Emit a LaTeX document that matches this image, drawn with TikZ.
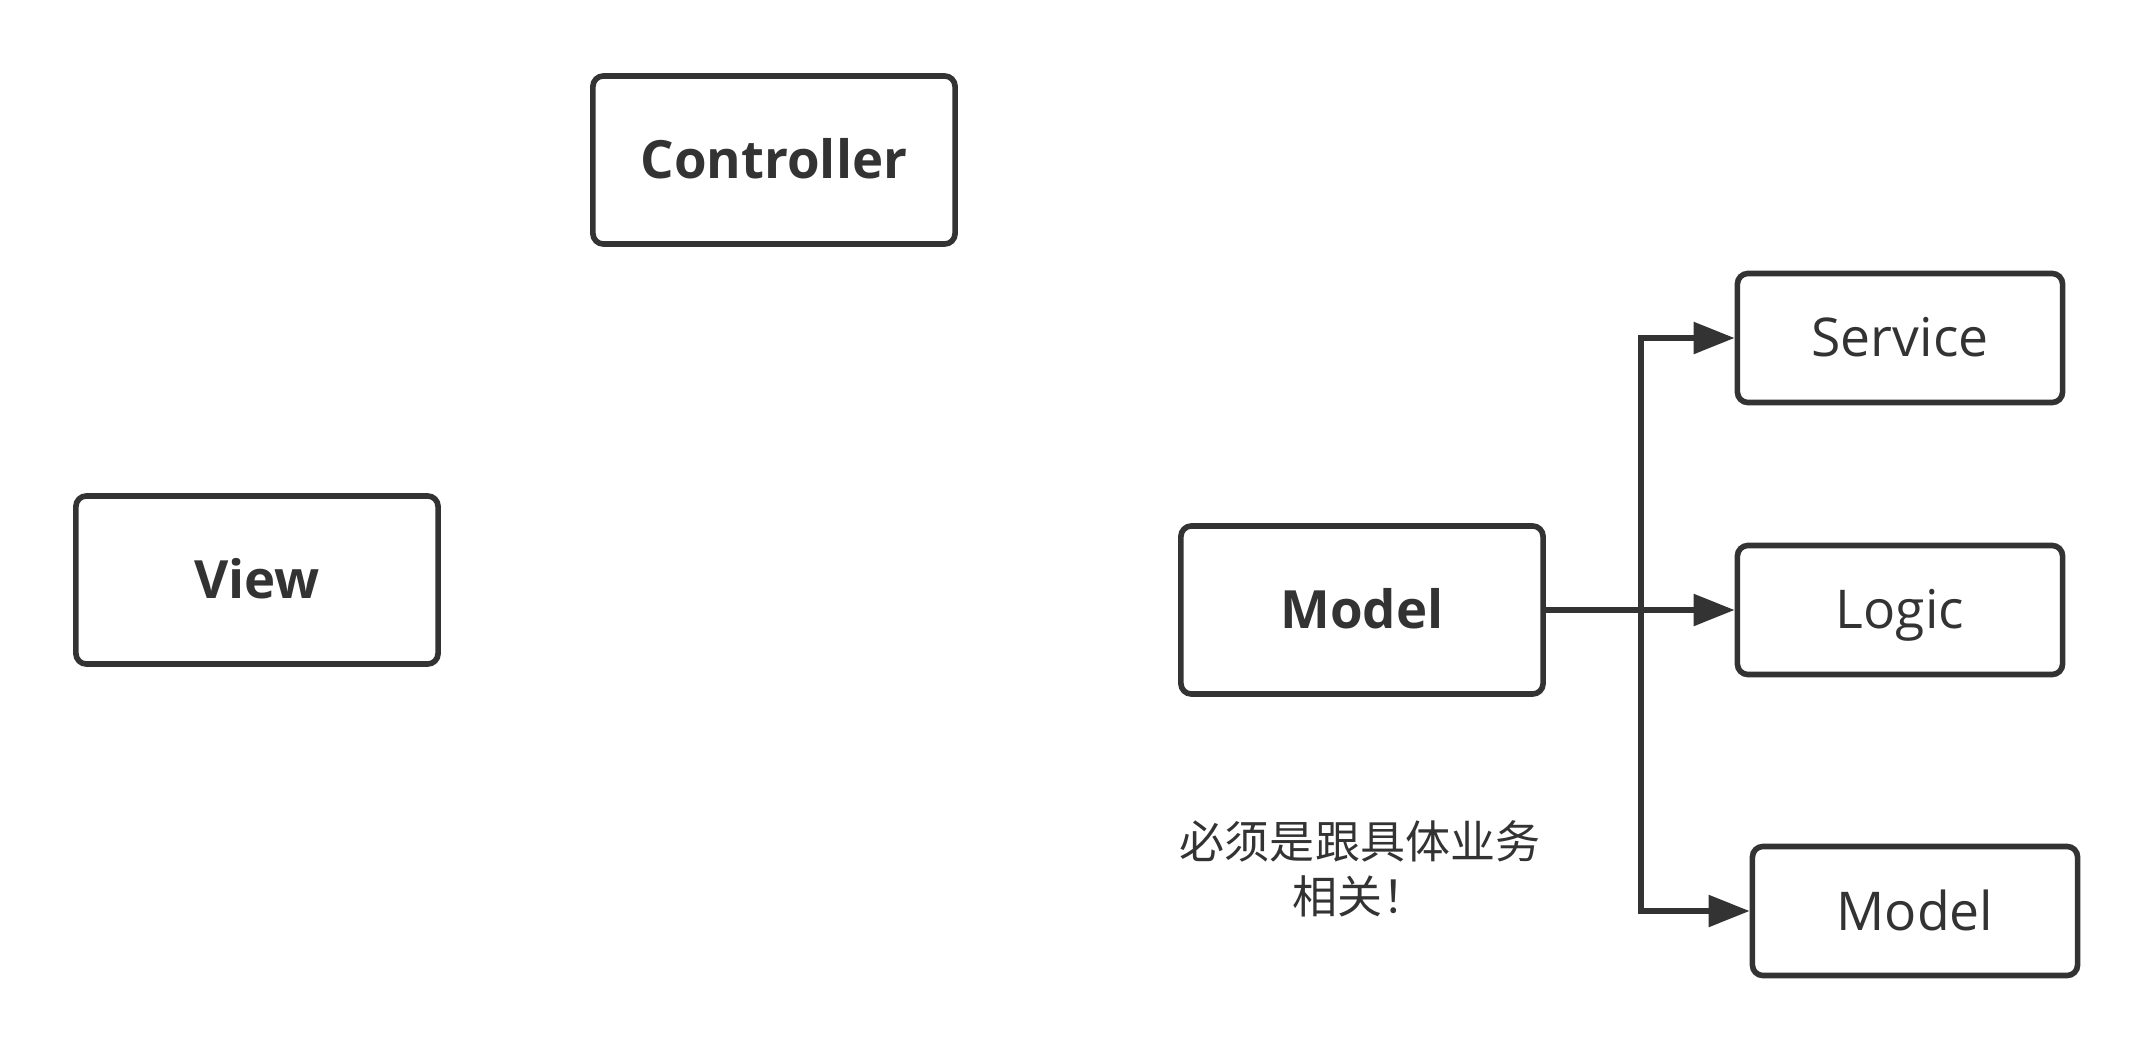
\documentclass[tikz,border=0pt]{standalone}
\usepackage{fontspec}
\setmainfont{Open Sans}
\newfontfamily\cjk{Noto Sans CJK SC}
\usetikzlibrary{arrows.meta}
\definecolor{ink}{HTML}{333333}
\tikzset{
  box/.style={draw=ink, line width=1.6pt, rounded corners=3pt, text=ink,
    minimum width=3.62cm, minimum height=1.68cm, text height=10.8pt, text depth=0pt,
    font=\bfseries\fontsize{15}{18}\selectfont},
  part/.style={box, minimum width=3.25cm, minimum height=1.29cm,
    font=\fontsize{15.2}{18}\selectfont},
  link/.style={draw=ink, line width=1.6pt, -{Triangle[length=4.1mm,width=3.1mm]}}
}
\begin{document}
\begin{tikzpicture}[x=0.01cm, y=-0.01cm]
\useasboundingbox (0,0) rectangle (2154,1051);

% MVC
\node[box] (ctrl) at (774,160) {Controller};
\node[box] (view) at (257,580) {View};
\node[box] (model) at (1362,610) {Model};

% Model split
\node[part] (service) at (1900,338) {Service};
\node[part] (logic) at (1900,610) {Logic};
\node[part] (submodel) at (1915,911) {Model};
\coordinate (fork) at (1641,610);

\draw[link] (model.east) -- (logic.west);
\draw[link] (fork) |- (service.west);
\draw[link] (fork) |- (submodel.west);

\node[align=center, text=ink, font=\cjk\fontsize{12.8}{15.6}\selectfont] (note) at (1360,869)
  {必须是跟具体业务\\相关！};
\end{tikzpicture}
\end{document}
